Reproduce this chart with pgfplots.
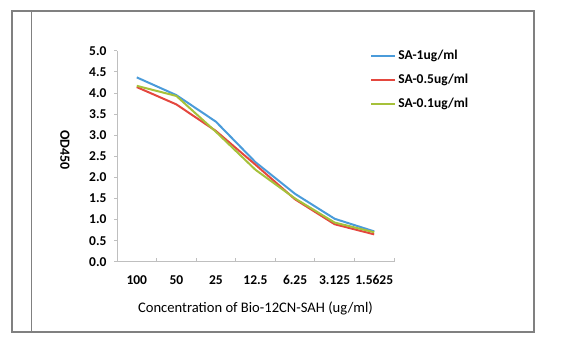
\documentclass[border=0pt]{standalone}
\usepackage{fontspec}
\setmainfont{Carlito}
\usepackage{pgfplots}
\pgfplotsset{compat=1.18}
\definecolor{sblue}{HTML}{4A9BDA}
\definecolor{sred}{HTML}{E4473E}
\definecolor{sgreen}{HTML}{A6C13A}
\definecolor{axgray}{HTML}{BFBFBF}
\definecolor{framegray}{HTML}{808080}
\begin{document}
\begin{tikzpicture}
\path[use as bounding box] (0bp,0bp) rectangle (579bp,348bp);
\draw[framegray, line width=1.2bp] (12bp,16bp) rectangle (534bp,337bp);
\draw[framegray, line width=0.9bp] (31.7bp,16bp) -- (31.7bp,337bp);
\begin{axis}[
  at={(117bp,86.2bp)}, anchor=south west,
  scale only axis, width=277bp, height=211bp,
  xmin=-0.5, xmax=6.5, ymin=0, ymax=5,
  axis x line*=bottom, axis y line*=left,
  axis line style={axgray, line width=0.9bp, -},
  font=\fontsize{13.5bp}{16bp}\selectfont,
  xtick={0,1,2,3,4,5,6},
  xticklabels={100,50,25,12.5,6.25,3.125,1.5625},
  x tick style={draw=none},
  extra x ticks={0.5,1.5,2.5,3.5,4.5,5.5,6.5},
  extra x tick labels={},
  extra x tick style={x tick style={draw=axgray, line width=0.9bp}, major tick length=4bp, tick align=inside},
  ytick={0,0.5,1,1.5,2,2.5,3,3.5,4,4.5,5},
  yticklabels={0.0,0.5,1.0,1.5,2.0,2.5,3.0,3.5,4.0,4.5,5.0},
  y tick style={draw=axgray, line width=0.9bp},
  ytick align=outside, major tick length=3bp,
  ticklabel style={font=\fontsize{13.5bp}{16bp}\selectfont\bfseries},
  xticklabel style={yshift=-10bp},
  yticklabel style={xshift=-4bp},
  xlabel={Concentration of Bio-12CN-SAH (ug/ml)},
  xlabel style={at={(axis description cs:0.5,0)}, anchor=center, yshift=-47bp, font=\fontsize{14.6bp}{17bp}\selectfont},
  ylabel={OD450},
  ylabel style={at={(axis description cs:-0.188,0.53)}, anchor=center, rotate=180, font=\fontsize{14bp}{16bp}\selectfont\bfseries},
  legend style={draw=none, fill=none, at={(axis description cs:0.914,1.012)}, anchor=north west, inner sep=0pt, row sep=9bp, font=\fontsize{13.5bp}{16bp}\selectfont\bfseries},
  legend cell align=left,
  legend image code/.code={\draw[#1] (0bp,0bp) -- (24bp,0bp);},
  every axis plot/.append style={line width=2bp, line join=round},
  clip=false,
]
\addplot[sblue] coordinates {(0,4.37) (1,3.95) (2,3.32) (3,2.36) (4,1.61) (5,1.02) (6,0.72)};
\addplot[sred] coordinates {(0,4.14) (1,3.73) (2,3.10) (3,2.30) (4,1.48) (5,0.89) (6,0.65)};
\addplot[sgreen] coordinates {(0,4.17) (1,3.93) (2,3.08) (3,2.18) (4,1.50) (5,0.93) (6,0.70)};
\legend{SA-1ug/ml,SA-0.5ug/ml,SA-0.1ug/ml}
\end{axis}
\end{tikzpicture}
\end{document}
